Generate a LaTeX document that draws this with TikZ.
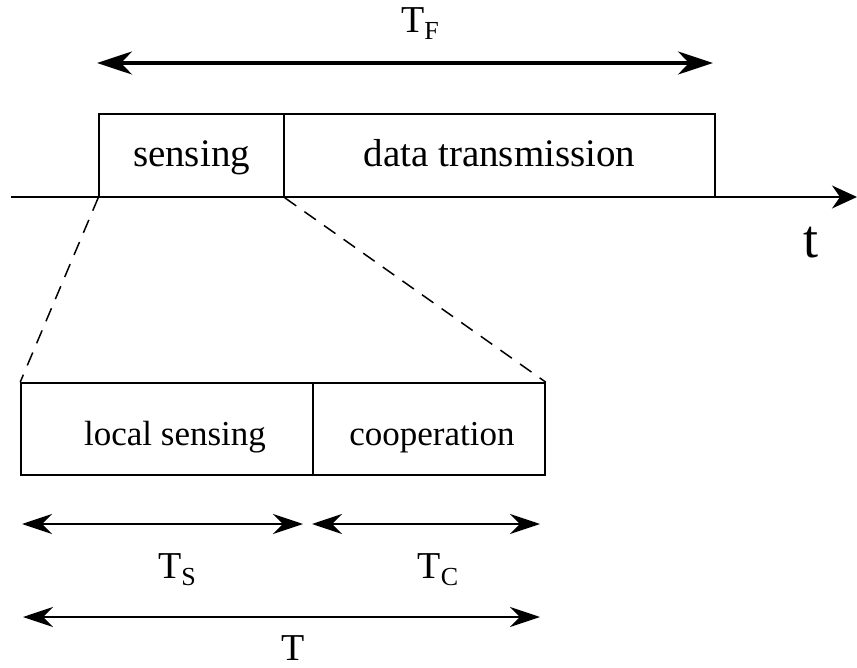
\documentclass[tikz,border=0pt]{standalone}
\usepackage{fontspec}
\setmainfont{Liberation Serif}
\usetikzlibrary{arrows.meta}
\newcommand{\subl}[1]{\raisebox{-7pt}{\fontsize{26}{28}\selectfont #1}}
\begin{document}
\begin{tikzpicture}[x=1pt,y=-1pt,
  box/.style={draw,line width=1.6pt,inner sep=0pt,anchor=center},
  bigtext/.style={font=\fontsize{39}{40}\selectfont,text height=28pt,text depth=5pt},
  smalltext/.style={font=\fontsize{35}{36}\selectfont,text height=34pt,text depth=2pt},
  lbl/.style={inner sep=0pt,anchor=base,font=\fontsize{38}{40}\selectfont},
  bigarrow/.style={line width=3.5pt,{Stealth[length=35pt,width=23pt,inset=11pt]}-{Stealth[length=35pt,width=23pt,inset=11pt]}},
  dimarrow/.style={line width=2pt,{Stealth[length=30pt,width=20pt,inset=10pt]}-{Stealth[length=30pt,width=20pt,inset=10pt]}},
  zoomline/.style={line width=1.5pt,dash pattern=on 14pt off 10pt}]
\useasboundingbox (0,0) rectangle (857,668);
% top frame
\node[box,bigtext,minimum width=185pt,minimum height=83pt] (sens) at (191.5,155.5) {sensing};
\node[box,bigtext,minimum width=431pt,minimum height=83pt] (data) at (499.5,155.5) {data transmission};
% time axis
\coordinate (a0) at (11,197);
\coordinate (a1) at (857,197);
\draw[line width=1.6pt,-{Stealth[length=25pt,width=23pt,inset=8pt]}] (a0) -- (a1);
\node[inner sep=0pt,anchor=base,font=\fontsize{54}{56}\selectfont] (t) at (811,258) {t};
% frame duration
\coordinate (f0) at (97,63);
\coordinate (f1) at (713,63);
\draw[bigarrow] (f0) -- (f1);
\node[lbl] (tf) at (420,33) {T\subl{F}};
% lower detail
\node[box,smalltext,minimum width=292pt,minimum height=92pt] (ls) at (167,429) {\hspace{16pt}local sensing};
\node[box,smalltext,minimum width=232pt,minimum height=92pt] (coop) at (429,429) {\hspace{6pt}cooperation};
\draw[zoomline] (sens.south west) -- (ls.north west);
\draw[zoomline] (sens.south east) -- (coop.north east);
% durations
\coordinate (s0) at (22,524);
\coordinate (s1) at (303,524);
\coordinate (c0) at (312,524);
\coordinate (c1) at (540,524);
\coordinate (w0) at (23,617);
\coordinate (w1) at (540,617);
\draw[dimarrow] (s0) -- (s1);
\draw[dimarrow] (c0) -- (c1);
\draw[dimarrow] (w0) -- (w1);
\node[lbl] (ts) at (177,578) {T\subl{S}};
\node[lbl] (tc) at (438,578) {T\subl{C}};
\node[lbl] (tt) at (293,660) {T};
\end{tikzpicture}
\end{document}
